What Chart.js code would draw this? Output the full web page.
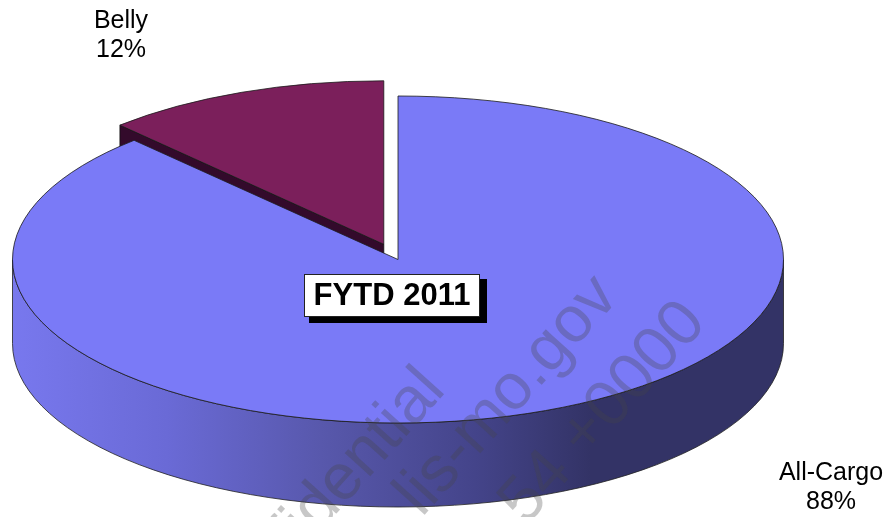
<!DOCTYPE html>
<html><head><meta charset="utf-8">
<style>html,body{margin:0;padding:0;background:#fff}#w{position:relative;width:891px;height:517px}</style>
<script src="https://cdn.jsdelivr.net/npm/chart.js@4/dist/chart.umd.min.js"></script>
</head><body><div id="w"><canvas id="c" width="891" height="517"></canvas></div>
<script>
const categories = ['Belly', 'All-Cargo'];
const shares = [12, 88];
const percentLabels = ['12%', '88%'];
const sliceColors = ['#7B1F5B', '#7A7AF7'];
const sideColors = ['#330A2B', '#333366'];
const explodeFraction = [0.1, 0];
const periodLabel = 'FYTD 2011';
const watermarkLines = ['Confidential', 'lis-mo.gov', '.54 +0000'];

const CX = 398, CY = 259.5, RX = 385.5, RY = 163.5, DEPTH = 84;
const labelPos = [[121, 21], [831, 473]];

const pie3d = {
  id: 'pie3d',
  afterDatasetsUpdate(chart) {
    const arcs = chart.getDatasetMeta(0).data;
    this.cx = arcs[1].x; this.cy = arcs[1].y; this.r = arcs[1].outerRadius;
    arcs.forEach((a, i) => {
      const mid = (a.startAngle + a.endAngle) / 2;
      a.x = this.cx + Math.cos(mid) * explodeFraction[i] * this.r;
      a.y = this.cy + Math.sin(mid) * explodeFraction[i] * this.r;
    });
  },
  shift(a) {
    return [CX + (a.x - this.cx) * RX / this.r, CY + (a.y - this.cy) * RY / this.r];
  },
  beforeDatasetsDraw(chart) {
    const ctx = chart.ctx, belly = chart.getDatasetMeta(0).data[0];
    const [ax, ay] = this.shift(belly);
    const ex = ax + Math.cos(belly.startAngle) * RX, ey = ay + Math.sin(belly.startAngle) * RY;
    ctx.save();
    ctx.beginPath();
    ctx.moveTo(ax, ay); ctx.lineTo(ex, ey); ctx.lineTo(ex, ey + DEPTH); ctx.lineTo(ax, ay + DEPTH); ctx.closePath();
    ctx.fillStyle = sideColors[0]; ctx.fill();
    ctx.strokeStyle = '#111'; ctx.lineWidth = 0.8; ctx.stroke();
    const g = ctx.createLinearGradient(CX - RX, 0, CX + RX, 0);
    g.addColorStop(0, '#7878EE');
    g.addColorStop(0.2, '#6A6AD6');
    g.addColorStop(0.4, '#5858AC');
    g.addColorStop(0.6, '#44448A');
    g.addColorStop(0.75, sideColors[1]);
    g.addColorStop(1, sideColors[1]);
    ctx.beginPath();
    ctx.ellipse(CX, CY, RX, RY, 0, 0, Math.PI);
    ctx.lineTo(CX - RX, CY + DEPTH);
    ctx.ellipse(CX, CY + DEPTH, RX, RY, 0, Math.PI, 0, true);
    ctx.closePath();
    ctx.fillStyle = g; ctx.fill();
    ctx.strokeStyle = '#222'; ctx.lineWidth = 0.8; ctx.stroke();
    ctx.restore();
    ctx.save();
    ctx.translate(CX, CY);
    ctx.scale(RX / this.r, RY / this.r);
    ctx.translate(-this.cx, -this.cy);
  },
  afterDatasetsDraw(chart) {
    const ctx = chart.ctx, arcs = chart.getDatasetMeta(0).data;
    ctx.restore();
    ctx.save();
    arcs.forEach((a) => {
      const [x, y] = this.shift(a);
      ctx.beginPath();
      ctx.moveTo(x, y);
      ctx.ellipse(x, y, RX, RY, 0, a.startAngle, a.endAngle);
      ctx.closePath();
      ctx.strokeStyle = '#1a1a1a'; ctx.lineWidth = 0.8; ctx.stroke();
    });
    ctx.restore();
  },
  afterDraw(chart) {
    const ctx = chart.ctx;
    ctx.save();
    ctx.fillStyle = 'rgba(70,70,70,0.3)';
    ctx.font = '65px "Liberation Sans"';
    ctx.textAlign = 'right'; ctx.textBaseline = 'alphabetic';
    const ends = [[447, 391], [620, 298], [708, 324]];
    watermarkLines.forEach((t, i) => {
      ctx.save();
      ctx.translate(ends[i][0], ends[i][1]);
      ctx.rotate(-48 * Math.PI / 180);
      ctx.fillText(t, 0, 0);
      ctx.restore();
    });
    ctx.fillStyle = '#000';
    ctx.textAlign = 'center'; ctx.textBaseline = 'middle';
    ctx.font = '25px "Liberation Sans"';
    categories.forEach((c, i) => {
      ctx.fillText(c, labelPos[i][0], labelPos[i][1]);
      ctx.fillText(percentLabels[i], labelPos[i][0], labelPos[i][1] + 29);
    });
    ctx.fillStyle = '#000'; ctx.fillRect(309, 279, 178, 44);
    ctx.fillStyle = '#fff'; ctx.fillRect(304, 274, 176, 43);
    ctx.strokeStyle = '#222'; ctx.lineWidth = 1; ctx.strokeRect(304.5, 274.5, 175, 42);
    ctx.fillStyle = '#000'; ctx.font = 'bold 31px "Liberation Sans"';
    ctx.fillText(periodLabel, 392, 296);
    ctx.restore();
  }
};

new Chart(document.getElementById('c'), {
  type: 'pie',
  data: {
    labels: categories,
    datasets: [{
      data: shares,
      backgroundColor: sliceColors,
      borderWidth: 0
    }]
  },
  options: {
    responsive: false,
    animation: false,
    rotation: -shares[0] * 3.6,
    plugins: { legend: { display: false }, tooltip: { enabled: false } }
  },
  plugins: [pie3d]
});
</script></body></html>
